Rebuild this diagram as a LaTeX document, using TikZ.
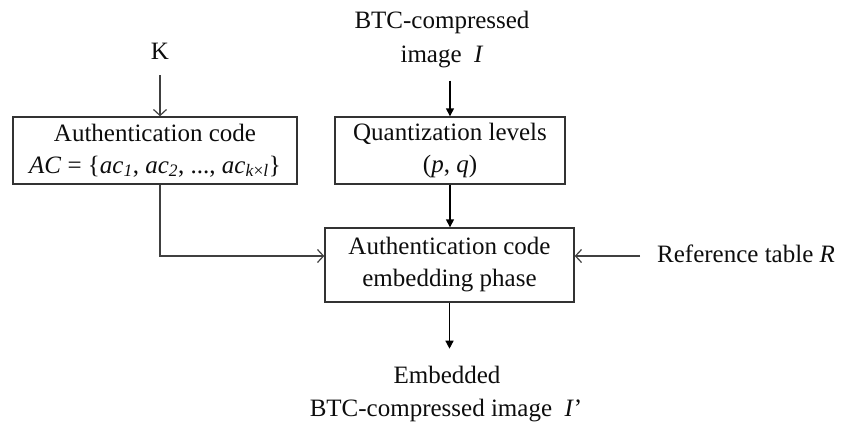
\documentclass[tikz,border=0pt]{standalone}
\usepackage{fontspec}
\setmainfont{Liberation Serif}
\usetikzlibrary{arrows.meta,calc}
\begin{document}
\begin{tikzpicture}[x=1pt,y=1pt,
  every node/.style={font=\fontsize{25}{32}\selectfont, text=black!95},
  blockbox/.style={draw=black!80, line width=1.4pt, rectangle, align=center, inner sep=0pt},
  plaintext/.style={inner sep=0pt},
  openarrow/.style={draw=black!75, line width=1.2pt, -{Straight Barb[length=6pt,width=13pt,line width=1.2pt]}},
  fillarrow/.style={draw=black, line width=1.4pt, -{Triangle[length=8pt,width=8pt]}}
]
\useasboundingbox (0,0) rectangle (844,-421);

% boxes
\node[blockbox, minimum width=284pt, minimum height=67pt] (ac) at (155,-150.5)
  {Authentication code\\[0pt]\textit{AC} = \{\textit{ac}\textsubscript{\textit{1}}, \textit{ac}\textsubscript{\textit{2}}, ..., \textit{ac}\textsubscript{\textit{k}×\textit{l}}\}};
\node[blockbox, minimum width=230pt, minimum height=67pt] (ql) at (450,-150.5)
  {Quantization levels\\[0pt](\textit{p}, \textit{q})};
\node[blockbox, minimum width=249pt, minimum height=74pt] (emb) at (449.5,-265)
  {Authentication code\\[0pt]embedding phase};

% free texts
\node[plaintext, anchor=base] (k) at (160,-59) {K};
\node[plaintext, anchor=base] (btc1) at (442,-28) {BTC-compressed};
\node[plaintext, anchor=base] (btc2) at (442,-62) {image~~\textit{I}};
\node[plaintext, anchor=base west] (ref) at (657,-262) {Reference table \textit{R}};
\node[plaintext, anchor=base] (out1) at (447,-383) {Embedded};
\node[plaintext, anchor=base] (out2) at (446,-416) {BTC-compressed image~~\textit{I}’};

% connectors
\draw[openarrow] ([yshift=-16pt]k.south) -- (ac.north -| k.south);
\draw[fillarrow] (btc2.south -| ql.north) ++(0,-13pt) coordinate (btcstart) -- (ql.north);
\draw[fillarrow] (ql.south) -- (ql.south |- emb.north);
\draw[openarrow] (ac.south -| k.south) |- ($(emb.west)+(0,9)$);
\draw[openarrow] ([xshift=-17pt]ref.west |- 0,-256) -- (emb.east |- 0,-256);
\draw[fillarrow] (emb.south) -- ([yshift=-46pt]emb.south);
\end{tikzpicture}
\end{document}
